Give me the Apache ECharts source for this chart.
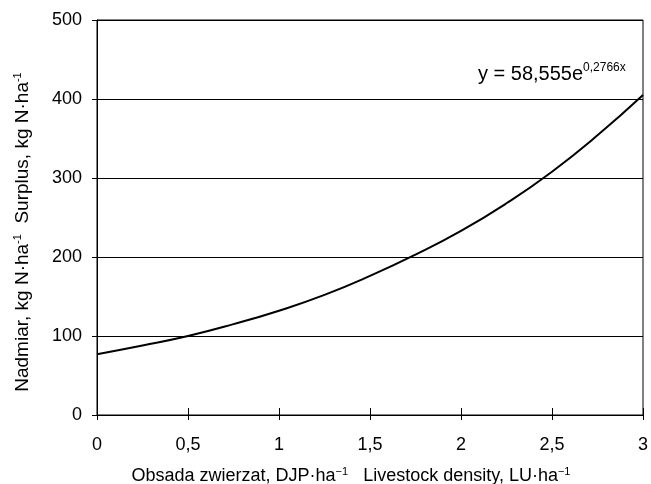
<!DOCTYPE html>
<html>
<head>
<meta charset="utf-8">
<script src="https://cdn.jsdelivr.net/npm/echarts@6/dist/echarts.min.js"></script>
<style>
  html, body { margin: 0; padding: 0; background: #fff; }
  #chart { width: 651px; height: 484px; }
</style>
</head>
<body>
<div id="chart"></div>
<script>
// values
var density = [0, 0.25, 0.5, 0.75, 1, 1.25, 1.5, 1.75, 2, 2.25, 2.5, 2.75, 3]
var surplus = [77, 88, 100, 115, 132, 152, 176, 203, 233, 268, 308, 354, 405]
var xTicks = ['0', '0,5', '1', '1,5', '2', '2,5', '3']
var equation = ['y = 58,555e', '0,2766x']

var font = 'Liberation Sans, Arial, sans-serif'
var sup = { fontSize: 11, lineHeight: 11, verticalAlign: 'top', fontFamily: font, color: '#000' }

var points = []
for (var i = 0; i < density.length; i++) {
  points.push([density[i], surplus[i]])
}

var myChart = echarts.init(document.getElementById('chart'))
var option = {
  animation: false,
  backgroundColor: '#fff',
  textStyle: { fontFamily: font, color: '#000' },
  grid: {
    left: 97, right: 8, top: 20, bottom: 69,
    outerBoundsMode: 'none',
    show: true, borderColor: '#000', borderWidth: 1
  },
  xAxis: [{
    type: 'value', min: 0, max: 3, interval: 0.5,
    axisLine: { show: true, lineStyle: { color: '#000', width: 1 } },
    axisTick: { show: true, inside: true, length: 7, lineStyle: { color: '#000' } },
    axisLabel: {
      margin: 21, fontSize: 18, color: '#000', fontFamily: font,
      formatter: function (v) { return xTicks[Math.round(v * 2)] }
    },
    splitLine: { show: false },
    name: '{n|Obsada zwierzat, DJP·ha}{s|−1}{n|   Livestock density, LU·ha}{s|−1}',
    nameLocation: 'middle', nameGap: 51,
    nameTextStyle: {
      padding: [0, 38, 0, 0],
      rich: { n: { fontSize: 18, lineHeight: 20, fontFamily: font, color: '#000' }, s: sup }
    }
  }, {
    type: 'value', min: 0, max: 3, interval: 0.5, position: 'bottom',
    axisLine: { show: false },
    axisTick: { show: true, inside: false, length: 5, lineStyle: { color: '#000' } },
    axisLabel: { show: false },
    splitLine: { show: false }
  }],
  yAxis: {
    type: 'value', min: 0, max: 500, interval: 100,
    axisLine: { show: true, lineStyle: { color: '#000', width: 1 } },
    axisTick: { show: true, length: 5, lineStyle: { color: '#000' } },
    axisLabel: { margin: 15, fontSize: 18, color: '#000', fontFamily: font },
    splitLine: { show: true, lineStyle: { color: '#000', width: 1 } },
    name: '{n|Nadmiar, kg N·ha}{s|-1}{n|  Surplus, kg N·ha}{s|-1}',
    nameLocation: 'middle', nameGap: 64,
    nameTextStyle: {
      padding: [0, 29, 0, 0],
      rich: { n: { fontSize: 19, lineHeight: 21, fontFamily: font, color: '#000' }, s: sup }
    }
  },
  series: [{
    type: 'line',
    data: points,
    smooth: true,
    symbol: 'none',
    lineStyle: { color: '#000', width: 2 }
  }],
  graphic: [{
    type: 'text',
    left: 478, top: 62,
    style: {
      text: '{n|' + equation[0] + '}{s|' + equation[1] + '}',
      rich: {
        n: { fontSize: 20, lineHeight: 24, fontFamily: font, fill: '#000' },
        s: { fontSize: 12, lineHeight: 12, verticalAlign: 'top', fontFamily: font, fill: '#000' }
      }
    }
  }]
}
myChart.setOption(option)
</script>
</body>
</html>
